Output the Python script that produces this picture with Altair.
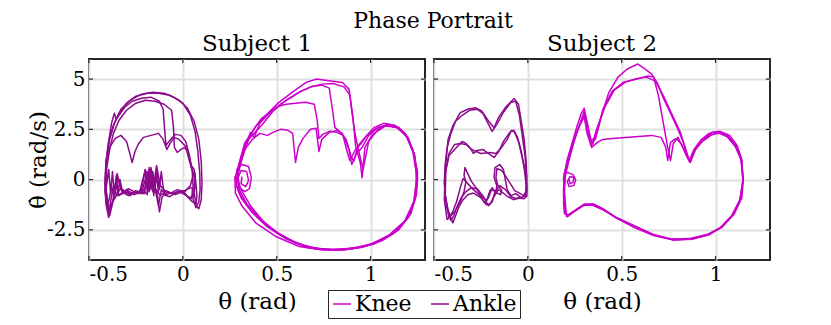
import altair as alt
import pandas as pd

# ---------------- data ----------------
x_ticks = [-0.5, 0, 0.5, 1]
y_ticks = [-2.5, 0, 2.5, 5]
x_domain = [-0.5, 1.29]
y_domain = [-4, 6]
joints = ["Knee", "Ankle"]
colors = ["#cc00cc", "#8c0a8c"]
subjects = ["Subject 1", "Subject 2"]

# Subject 1 – knee cycles
k1a_x = [0.28, 0.30, 0.33, 0.39, 0.44, 0.51, 0.58, 0.655, 0.71, 0.78, 0.85, 0.885, 0.905, 0.92, 0.945, 0.955, 0.97, 1.01, 1.08, 1.14, 1.19, 1.23, 1.25, 1.236, 1.19, 1.10, 0.995, 0.87, 0.745, 0.62, 0.495, 0.39, 0.316, 0.28, 0.277]
k1a_y = [0.1, 0.83, 1.83, 2.67, 3.17, 3.83, 4.33, 4.83, 5.0, 4.92, 4.83, 4.5, 3.2, 1.7, 0.85, 0.1, 1.6, 2.25, 2.67, 2.6, 2.17, 1.33, 0.0, -1.0, -2.0, -2.75, -3.25, -3.45, -3.5, -3.33, -2.83, -2.17, -1.33, -0.67, 0.17]
k1b_x = [0.29, 0.31, 0.34, 0.37, 0.42, 0.48, 0.55, 0.62, 0.68, 0.74, 0.80, 0.86, 0.89, 0.90, 0.915, 0.935, 0.95, 0.96, 0.99, 1.04, 1.09, 1.15, 1.20, 1.235, 1.25, 1.24, 1.20, 1.12, 1.02, 0.90, 0.78, 0.66, 0.55, 0.45, 0.37, 0.31, 0.285, 0.29]
k1b_y = [0.3, 1.1, 1.9, 2.2, 2.7, 3.4, 3.95, 4.35, 4.6, 4.75, 4.78, 4.6, 4.2, 3.4, 2.4, 1.5, 0.9, 0.5, 1.9, 2.5, 2.75, 2.6, 2.1, 1.2, 0.1, -0.9, -1.9, -2.7, -3.2, -3.45, -3.5, -3.38, -2.95, -2.35, -1.65, -0.9, -0.3, 0.3]
k1c_x = [0.30, 0.32, 0.35, 0.385, 0.42, 0.47, 0.51, 0.55, 0.60, 0.655, 0.70, 0.715, 0.725, 0.745, 0.78, 0.82, 0.855, 0.885, 0.90, 0.925, 0.955, 0.99, 1.04, 1.09, 1.15, 1.20, 1.235, 1.245, 1.23, 1.18, 1.09, 0.98, 0.86, 0.74, 0.63, 0.52, 0.43, 0.36, 0.31, 0.29, 0.30]
k1c_y = [0.5, 1.2, 2.0, 2.6, 3.05, 3.4, 3.65, 3.75, 3.8, 3.85, 3.75, 3.0, 2.05, 2.25, 2.4, 2.35, 2.2, 1.5, 0.75, 1.3, 1.6, 2.2, 2.6, 2.7, 2.55, 2.05, 1.2, 0.0, -1.1, -2.1, -2.85, -3.3, -3.5, -3.45, -3.25, -2.75, -2.1, -1.3, -0.5, 0.1, 0.5]
k1d_x = [0.30, 0.33, 0.37, 0.41, 0.45, 0.48, 0.52, 0.56, 0.585, 0.60, 0.615, 0.64, 0.68, 0.71, 0.725, 0.74, 0.78, 0.82, 0.85, 0.875, 0.89, 0.92, 0.95, 0.98, 1.03, 1.08, 1.14, 1.19, 1.225, 1.245, 1.24, 1.205, 1.14, 1.04, 0.92, 0.80, 0.69, 0.58, 0.48, 0.40, 0.34, 0.30, 0.29, 0.30]
k1d_y = [0.6, 1.5, 2.0, 2.3, 2.2, 2.35, 2.5, 2.45, 2.3, 0.85, 1.6, 2.05, 2.5, 2.55, 1.4, 2.0, 2.35, 2.45, 2.3, 1.4, 0.95, 1.5, 1.8, 2.2, 2.55, 2.7, 2.6, 2.2, 1.4, 0.3, -0.8, -1.8, -2.55, -3.1, -3.4, -3.48, -3.4, -3.05, -2.5, -1.85, -1.2, -0.5, 0.1, 0.6]
k1e_x = [0.29, 0.31, 0.34, 0.36, 0.38, 0.41, 0.46, 0.52, 0.58, 0.63, 0.69, 0.74, 0.78, 0.795, 0.81, 0.84, 0.87, 0.895, 0.91, 0.935, 0.97, 1.02, 1.07, 1.13, 1.185, 1.225, 1.25, 1.245, 1.215, 1.15, 1.06, 0.95, 0.83, 0.71, 0.60, 0.50, 0.41, 0.34, 0.295, 0.28]
k1e_y = [0.2, 1.0, 1.8, 2.35, 2.1, 2.8, 3.3, 3.75, 4.1, 4.4, 4.65, 4.7, 4.55, 3.6, 2.6, 2.35, 2.0, 1.2, 0.9, 1.7, 2.1, 2.6, 2.8, 2.7, 2.3, 1.5, 0.4, -0.7, -1.7, -2.5, -3.05, -3.38, -3.5, -3.45, -3.15, -2.65, -1.95, -1.25, -0.55, 0.0]
k1s_x = [0.28, 0.29, 0.315, 0.35, 0.365, 0.355, 0.33, 0.30, 0.295, 0.31, 0.34, 0.35, 0.335, 0.31, 0.315]
k1s_y = [0.0, 0.55, 0.75, 0.65, 0.1, -0.45, -0.6, -0.4, 0.1, 0.45, 0.4, -0.05, -0.35, -0.2, 0.15]

# Subject 1 – ankle cycles
a1a_x = [-0.39, -0.405, -0.412, -0.405, -0.39, -0.365, -0.33, -0.28, -0.22, -0.16, -0.10, -0.05, 0.0, 0.04, 0.065, 0.08, 0.09, 0.092, 0.085, 0.07, 0.055, 0.05, 0.03, 0.0, -0.04, -0.08, -0.11, -0.125, -0.135, -0.15, -0.17, -0.18, -0.19, -0.205, -0.22, -0.26, -0.30, -0.34, -0.36, -0.375, -0.39]
a1a_y = [-1.8, -1.0, 0.0, 1.0, 2.0, 2.8, 3.5, 3.95, 4.25, 4.35, 4.3, 4.1, 3.8, 3.2, 2.4, 1.4, 0.3, -0.5, -1.1, -1.4, -1.0, -0.4, -0.45, -0.6, -0.75, -0.6, -0.85, -1.6, -0.8, -0.3, 0.6, -0.4, 0.4, -0.7, -0.6, -0.75, -0.5, -0.8, -0.2, -1.2, -1.8]
a1b_x = [-0.40, -0.412, -0.41, -0.39, -0.36, -0.33, -0.30, -0.27, -0.255, -0.235, -0.21, -0.17, -0.13, -0.105, -0.085, -0.065, -0.045, -0.02, 0.0, 0.015, 0.03, 0.045, 0.06, 0.065, 0.055, 0.03, 0.0, -0.03, -0.07, -0.10, -0.115, -0.125, -0.14, -0.155, -0.165, -0.18, -0.195, -0.22, -0.26, -0.30, -0.33, -0.35, -0.365, -0.38, -0.40]
a1b_y = [-1.3, -0.2, 0.9, 1.6, 2.05, 2.2, 1.9, 0.85, 1.4, 1.8, 2.1, 2.2, 2.3, 2.0, 1.5, 1.85, 2.1, 2.0, 1.8, 1.65, 1.1, 0.6, 0.2, -0.4, -0.85, -0.9, -0.55, -0.6, -0.85, -0.75, 0.4, -0.5, 0.55, -0.8, 0.3, -0.6, 0.2, -0.7, -0.6, -0.75, -0.5, 0.3, -0.9, -0.4, -1.3]
a1c_x = [-0.40, -0.415, -0.41, -0.395, -0.38, -0.365, -0.355, -0.34, -0.31, -0.27, -0.22, -0.17, -0.125, -0.105, -0.098, -0.09, -0.07, -0.04, -0.01, 0.015, 0.035, 0.05, 0.055, 0.045, 0.02, -0.01, -0.05, -0.09, -0.12, -0.14, -0.16, -0.175, -0.19, -0.21, -0.25, -0.29, -0.32, -0.345, -0.37, -0.39, -0.40]
a1c_y = [-1.6, -0.6, 0.7, 1.9, 2.8, 3.3, 3.0, 3.2, 3.6, 3.9, 4.05, 4.1, 3.9, 3.5, 2.6, 1.7, 1.95, 2.25, 2.2, 1.9, 1.2, 0.4, -0.4, -0.95, -0.8, -0.55, -0.7, -0.6, -0.3, 0.7, -0.6, 0.4, -0.75, -0.5, -0.65, -0.45, -0.7, 0.1, -1.0, -1.5, -1.6]
a1d_x = [-0.395, -0.41, -0.415, -0.41, -0.395, -0.37, -0.34, -0.30, -0.25, -0.19, -0.13, -0.07, -0.02, 0.025, 0.06, 0.085, 0.098, 0.102, 0.098, 0.085, 0.07, 0.06, 0.065, 0.06, 0.04, 0.01, -0.03, -0.06, -0.09, -0.115, -0.13, -0.145, -0.16, -0.18, -0.2, -0.23, -0.27, -0.31, -0.35, -0.37, -0.385, -0.395]
a1d_y = [-1.9, -1.2, -0.2, 0.9, 1.9, 2.7, 3.3, 3.8, 4.15, 4.3, 4.3, 4.2, 3.95, 3.55, 2.9, 2.0, 0.9, -0.2, -1.0, -1.45, -1.3, -0.6, 0.3, 0.4, -0.3, -0.6, -0.5, -0.65, -0.75, -0.5, -1.3, -0.6, 0.3, -0.2, 0.5, -0.6, -0.7, -0.6, -0.8, -0.3, -1.1, -1.9]
a1e_x = [-0.40, -0.41, -0.405, -0.39, -0.37, -0.34, -0.30, -0.25, -0.20, -0.15, -0.10, -0.06, -0.05, -0.045, -0.03, -0.01, 0.01, 0.03, 0.045, 0.06, 0.07, 0.075, 0.07, 0.05, 0.02, -0.02, -0.06, -0.09, -0.12, -0.15, -0.18, -0.21, -0.25, -0.29, -0.33, -0.36, -0.38, -0.40]
a1e_y = [-1.4, -0.4, 0.6, 1.5, 2.3, 2.95, 3.45, 3.8, 3.95, 3.9, 3.75, 3.45, 2.6, 1.6, 1.35, 1.5, 1.6, 1.3, 0.7, 0.5, -0.2, -0.8, -1.2, -1.1, -0.8, -0.6, -0.7, -0.55, -0.8, -0.4, 0.35, -0.7, -0.55, -0.8, -0.4, -0.9, -1.2, -1.4]
a1r_x = [-0.40, -0.41, -0.395, -0.385, -0.375, -0.365, -0.355, -0.345, -0.335, -0.32, -0.30, -0.28, -0.26, -0.24, -0.22, -0.2, -0.19, -0.18, -0.17, -0.16, -0.15, -0.14, -0.13]
a1r_y = [-1.5, -0.5, 0.5, -0.7, 0.4, -0.8, 0.2, -0.6, 0.0, -0.7, -0.5, -0.8, -0.6, -0.7, -0.5, 0.5, -0.6, 0.6, -0.5, 0.4, -0.6, 0.3, -0.7]

# Subject 2 – knee cycles
k2a_x = [0.195, 0.21, 0.235, 0.26, 0.285, 0.30, 0.315, 0.335, 0.36, 0.39, 0.43, 0.48, 0.53, 0.586, 0.625, 0.66, 0.69, 0.72, 0.76, 0.80, 0.835, 0.86, 0.885, 0.92, 0.965, 1.01, 1.06, 1.105, 1.135, 1.146, 1.135, 1.095, 1.035, 0.965, 0.875, 0.78, 0.68, 0.575, 0.48, 0.405, 0.35, 0.30, 0.25, 0.215, 0.195, 0.19, 0.195]
k2a_y = [0.3, 1.0, 1.8, 2.6, 3.3, 3.55, 2.9, 2.0, 2.0, 3.1, 4.3, 5.1, 5.5, 5.75, 5.5, 5.25, 4.8, 4.1, 3.3, 2.5, 1.7, 0.95, 1.5, 1.95, 2.3, 2.38, 2.15, 1.65, 1.0, 0.0, -0.95, -1.75, -2.35, -2.75, -2.97, -3.0, -2.8, -2.35, -1.95, -1.5, -1.25, -1.25, -1.55, -1.8, -1.6, -0.5, 0.3]
k2b_x = [0.20, 0.22, 0.25, 0.28, 0.30, 0.32, 0.34, 0.37, 0.41, 0.46, 0.52, 0.58, 0.64, 0.67, 0.695, 0.72, 0.745, 0.76, 0.775, 0.80, 0.83, 0.86, 0.89, 0.93, 0.975, 1.02, 1.07, 1.11, 1.14, 1.145, 1.13, 1.09, 1.03, 0.955, 0.865, 0.77, 0.67, 0.57, 0.47, 0.40, 0.345, 0.295, 0.245, 0.21, 0.19, 0.20]
k2b_y = [0.2, 1.0, 2.0, 2.85, 3.4, 2.6, 1.7, 2.6, 3.6, 4.45, 4.85, 5.0, 5.15, 5.1, 4.2, 2.9, 1.6, 0.95, 1.8, 2.1, 1.5, 0.9, 1.45, 1.95, 2.25, 2.3, 2.1, 1.6, 0.9, -0.1, -1.0, -1.8, -2.4, -2.75, -2.95, -3.0, -2.75, -2.3, -1.9, -1.45, -1.2, -1.3, -1.6, -1.85, -1.2, 0.2]
k2c_x = [0.20, 0.225, 0.255, 0.285, 0.30, 0.315, 0.34, 0.37, 0.40, 0.45, 0.52, 0.59, 0.66, 0.71, 0.735, 0.745, 0.76, 0.79, 0.82, 0.845, 0.865, 0.89, 0.93, 0.975, 1.02, 1.065, 1.105, 1.135, 1.148, 1.14, 1.10, 1.04, 0.965, 0.87, 0.77, 0.67, 0.57, 0.48, 0.405, 0.35, 0.30, 0.255, 0.215, 0.195, 0.19, 0.20]
k2c_y = [0.4, 1.3, 2.2, 2.9, 3.2, 2.3, 1.6, 1.85, 2.0, 2.05, 2.1, 2.15, 2.2, 2.1, 1.6, 0.95, 1.85, 2.05, 1.75, 1.2, 0.85, 1.5, 1.9, 2.2, 2.35, 2.2, 1.75, 1.05, 0.05, -0.9, -1.7, -2.3, -2.7, -2.92, -2.98, -2.78, -2.4, -1.95, -1.5, -1.22, -1.22, -1.5, -1.75, -1.7, -0.8, 0.4]
k2d_x = [0.19, 0.215, 0.245, 0.275, 0.30, 0.325, 0.345, 0.37, 0.40, 0.45, 0.51, 0.57, 0.63, 0.68, 0.72, 0.77, 0.815, 0.845, 0.865, 0.895, 0.935, 0.98, 1.025, 1.075, 1.115, 1.14, 1.146, 1.13, 1.085, 1.025, 0.95, 0.86, 0.765, 0.665, 0.565, 0.475, 0.40, 0.345, 0.295, 0.245, 0.205, 0.19]
k2d_y = [0.1, 1.1, 2.0, 2.7, 3.1, 2.2, 1.75, 2.4, 3.5, 4.4, 4.85, 5.0, 5.1, 4.9, 4.2, 3.2, 2.3, 1.3, 0.85, 1.55, 2.0, 2.35, 2.4, 2.2, 1.7, 1.0, 0.0, -1.0, -1.8, -2.4, -2.78, -2.96, -2.96, -2.72, -2.3, -1.9, -1.5, -1.28, -1.28, -1.58, -1.82, 0.1]
k2s_x = [0.19, 0.215, 0.24, 0.255, 0.245, 0.22, 0.21, 0.225, 0.245, 0.24, 0.225, 0.22]
k2s_y = [0.3, 0.35, 0.25, 0.0, -0.3, -0.35, -0.1, 0.15, 0.1, -0.15, -0.2, 0.0]

# Subject 2 – ankle cycles
a2a_x = [-0.40, -0.425, -0.443, -0.443, -0.435, -0.425, -0.40, -0.36, -0.32, -0.28, -0.246, -0.21, -0.18, -0.157, -0.12, -0.073, -0.05, -0.035, -0.02, -0.01, -0.005, -0.005, -0.02, -0.05, -0.077, -0.11, -0.14, -0.157, -0.18, -0.20, -0.22, -0.25, -0.29, -0.32, -0.345, -0.365, -0.38, -0.40]
a2a_y = [-2.17, -1.5, -0.67, 0.3, 1.0, 2.0, 2.67, 3.33, 3.5, 3.58, 3.42, 2.92, 2.58, 3.08, 3.58, 4.03, 3.75, 2.9, 2.0, 1.0, 0.0, -0.83, -0.95, -0.9, -1.0, -0.83, -0.6, -0.5, -0.85, -1.2, -1.25, -0.9, -0.67, -0.75, -1.0, -1.3, -1.67, -2.17]
a2b_x = [-0.42, -0.44, -0.437, -0.42, -0.39, -0.36, -0.33, -0.31, -0.29, -0.27, -0.24, -0.21, -0.18, -0.155, -0.13, -0.1, -0.085, -0.07, -0.05, -0.035, -0.02, -0.01, -0.005, -0.015, -0.04, -0.07, -0.10, -0.12, -0.14, -0.165, -0.17, -0.16, -0.14, -0.145, -0.17, -0.19, -0.21, -0.23, -0.26, -0.29, -0.32, -0.345, -0.36, -0.38, -0.40, -0.42]
a2b_y = [-1.9, -0.8, 0.5, 1.3, 1.75, 1.8, 1.75, 1.6, 1.3, 1.45, 1.5, 1.3, 1.1, 1.4, 1.9, 2.3, 2.45, 2.35, 1.9, 1.3, 0.7, 0.1, -0.5, -0.85, -0.7, -0.55, -0.1, 0.2, 0.45, 0.55, 0.1, -0.3, -0.5, -0.75, -0.65, -0.4, -0.9, -1.15, -0.75, -0.5, -0.2, 0.05, -0.4, -1.1, -1.6, -1.9]
a2c_x = [-0.41, -0.435, -0.445, -0.44, -0.43, -0.41, -0.385, -0.35, -0.31, -0.27, -0.24, -0.215, -0.19, -0.165, -0.13, -0.09, -0.065, -0.045, -0.03, -0.015, -0.008, -0.01, -0.03, -0.06, -0.09, -0.12, -0.15, -0.175, -0.19, -0.21, -0.24, -0.27, -0.30, -0.33, -0.355, -0.375, -0.395, -0.41]
a2c_y = [-2.05, -1.3, -0.2, 0.8, 1.6, 2.3, 2.9, 3.2, 3.45, 3.5, 3.3, 2.85, 2.4, 2.75, 3.35, 3.85, 3.9, 3.2, 2.2, 1.2, 0.2, -0.6, -0.9, -0.95, -0.85, -0.5, -0.3, -0.6, -1.1, -1.3, -0.8, -0.45, -0.4, -0.6, -0.9, -1.3, -1.8, -2.05]
a2d_x = [-0.43, -0.445, -0.44, -0.42, -0.38, -0.35, -0.33, -0.30, -0.25, -0.20, -0.17, -0.14, -0.11, -0.09, -0.075, -0.055, -0.035, -0.02, -0.008, -0.012, -0.035, -0.065, -0.09, -0.11, -0.13, -0.15, -0.175, -0.18, -0.165, -0.17, -0.2, -0.22, -0.25, -0.28, -0.30, -0.32, -0.335, -0.34, -0.33, -0.34, -0.36, -0.39, -0.43]
a2d_y = [-2.0, -1.0, 0.3, 1.2, 1.6, 1.9, 1.8, 1.5, 1.3, 1.35, 1.3, 1.6, 2.0, 2.4, 2.45, 2.1, 1.4, 0.6, -0.3, -0.8, -0.9, -0.7, -0.8, -0.5, 0.5, 0.75, 0.6, 0.1, -0.3, -0.6, -0.5, -1.05, -0.8, -0.35, -0.1, 0.3, 0.6, 0.2, -0.1, -0.6, -1.1, -1.6, -2.0]

cycles = [
    ("Subject 1", "Knee", k1a_x, k1a_y), ("Subject 1", "Knee", k1b_x, k1b_y),
    ("Subject 1", "Knee", k1c_x, k1c_y), ("Subject 1", "Knee", k1d_x, k1d_y),
    ("Subject 1", "Knee", k1e_x, k1e_y), ("Subject 1", "Knee", k1s_x, k1s_y),
    ("Subject 1", "Ankle", a1a_x, a1a_y), ("Subject 1", "Ankle", a1b_x, a1b_y),
    ("Subject 1", "Ankle", a1c_x, a1c_y), ("Subject 1", "Ankle", a1d_x, a1d_y),
    ("Subject 1", "Ankle", a1e_x, a1e_y), ("Subject 1", "Ankle", a1r_x, a1r_y),
    ("Subject 2", "Knee", k2a_x, k2a_y), ("Subject 2", "Knee", k2b_x, k2b_y),
    ("Subject 2", "Knee", k2c_x, k2c_y), ("Subject 2", "Knee", k2d_x, k2d_y),
    ("Subject 2", "Knee", k2s_x, k2s_y),
    ("Subject 2", "Ankle", a2a_x, a2a_y), ("Subject 2", "Ankle", a2b_x, a2b_y),
    ("Subject 2", "Ankle", a2c_x, a2c_y), ("Subject 2", "Ankle", a2d_x, a2d_y),
]

rows = []
for cid, (subj, joint, xs, ys) in enumerate(cycles):
    for i, (xv, yv) in enumerate(zip(xs, ys)):
        rows.append({"subject": subj, "joint": joint, "cycle": cid, "order": i, "x": xv, "y": yv})
df = pd.DataFrame(rows)
xt = pd.DataFrame({"x": x_ticks})
yt = pd.DataFrame({"y": y_ticks})

# ---------------- chart ----------------
FONT = "DejaVu Serif"
W, H = 336, 201
TL = 4  # inner tick length
LBL = "replace(format(datum.value, '~g'), '\u2212', '-')"

def panel(subj, first):
    xaxis = alt.Axis(values=x_ticks, labelExpr=LBL, title="θ (rad)", grid=True,
                     ticks=False, domain=False, labelFlush=True, labelPadding=4, titlePadding=6)
    if first:
        yaxis = alt.Axis(values=y_ticks, labelExpr=LBL, title="θ̇ (rad/s)", grid=True,
                         ticks=False, domain=False, labelPadding=4, titlePadding=-4)
    else:
        yaxis = alt.Axis(values=y_ticks, title=None, labels=False, grid=True, ticks=False, domain=False)
    X = alt.X("x:Q", scale=alt.Scale(domain=x_domain, nice=False, zero=False), axis=xaxis)
    Y = alt.Y("y:Q", scale=alt.Scale(domain=y_domain, nice=False, zero=False), axis=yaxis)
    lines = alt.Chart(df[df.subject == subj]).mark_line(strokeWidth=1.5, strokeJoin="round").encode(
        x=X, y=Y,
        color=alt.Color("joint:N", scale=alt.Scale(domain=joints, range=colors),
                        legend=alt.Legend(title=None, orient="none", legendX=239, legendY=231,
                                          direction="horizontal", symbolType="stroke",
                                          symbolSize=324, symbolStrokeWidth=1.5,
                                          labelFont=FONT, labelFontSize=22, labelColor="black",
                                          strokeColor="#262626", fillColor="white", padding=3,
                                          columnPadding=16, labelOffset=2)),
        detail="cycle:N",
        order="order:Q",
    )
    rule = dict(color="#262626", strokeWidth=1.2)
    bt = alt.Chart(xt).mark_rule(**rule).encode(x=X, y=alt.value(H), y2=alt.value(H - TL))
    tt = alt.Chart(xt).mark_rule(**rule).encode(x=X, y=alt.value(0), y2=alt.value(TL))
    lt = alt.Chart(yt).mark_rule(**rule).encode(y=Y, x=alt.value(0), x2=alt.value(TL))
    rt = alt.Chart(yt).mark_rule(**rule).encode(y=Y, x=alt.value(W), x2=alt.value(W - TL))
    return alt.layer(lines, bt, tt, lt, rt).properties(
        width=W, height=H,
        title=alt.TitleParams(subj, font=FONT, fontSize=23, fontWeight="normal", color="black", offset=2),
    )

chart = alt.hconcat(panel("Subject 1", True), panel("Subject 2", False), spacing=5).properties(
    title=alt.TitleParams("Phase Portrait", font=FONT, fontSize=22, fontWeight="normal", color="black",
                          anchor="middle", offset=-1, dx=34),
    padding={"left": 18, "top": 2, "right": 5, "bottom": 0},
).configure_view(stroke="#262626", strokeWidth=2).configure_axis(
    labelFont=FONT, labelFontSize=20, labelColor="black",
    titleFont=FONT, titleFontSize=23, titleFontWeight="normal", titleColor="black",
    gridColor="#e0e0e0", gridWidth=2, gridOpacity=1,
)

chart.save("out.html", embed_options={"renderer": "svg", "actions": False})
